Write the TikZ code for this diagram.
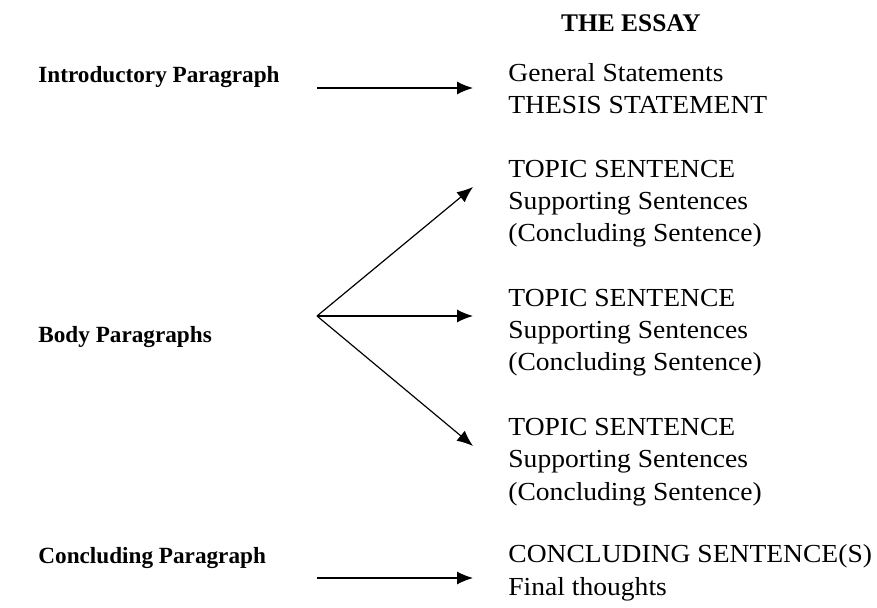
\documentclass[tikz,border=0pt]{standalone}
\usepackage{fontspec}
\setmainfont{Liberation Serif}
\newfontfamily\partfont[FakeStretch=1.06]{Liberation Serif}
\usetikzlibrary{arrows.meta}

\begin{document}
\begin{tikzpicture}[x=0.5pt,y=-0.5pt,
    every node/.style={inner sep=0pt},
    side/.style={anchor=base west, font=\fontsize{11.6}{16}\selectfont\bfseries},
    part/.style={anchor=base west, align=left, font=\partfont\fontsize{13}{16.2}\selectfont},
    link/.style={line width=0.6pt, -{Latex[length=8pt,width=6.5pt]}}]
            \useasboundingbox (0,0) rectangle (877,608);
            % Nodes
            \node[anchor=base, font=\fontsize{12.7}{16}\selectfont\bfseries] (title) at (631,32) {THE ESSAY};
            \node[side] (intro) at (38,83) {Introductory Paragraph};
            \node[side] (body) at (38,343) {Body Paragraphs};
            \node[side] (concl) at (38,563) {Concluding Paragraph};
            % multi-line nodes sit on their last baseline
            \node[part] (p1) at (508,114) {General Statements\\THESIS STATEMENT};
            \node[part] (p2) at (508,242) {TOPIC SENTENCE\\Supporting Sentences\\(Concluding Sentence)};
            \node[part] (p3) at (508,371) {TOPIC SENTENCE\\Supporting Sentences\\(Concluding Sentence)};
            \node[part] (p4) at (508,500) {TOPIC SENTENCE\\Supporting Sentences\\(Concluding Sentence)};
            \node[part] (p5) at (508,595) {CONCLUDING SENTENCE(S)\\Final thoughts};

            \coordinate (a1) at (317,88);
            \coordinate (b1) at (473,88);
            \coordinate (fan) at (317,316);
            \coordinate (b2) at (473,187);
            \coordinate (b3) at (473,316);
            \coordinate (b4) at (473,446);
            \coordinate (a5) at (317,578);
            \coordinate (b5) at (473,578);

            % Edges
            \draw[link] (a1) -- (b1);
            \draw[link] (fan) -- (b2);
            \draw[link] (fan) -- (b3);
            \draw[link] (fan) -- (b4);
            \draw[link] (a5) -- (b5);
        \end{tikzpicture}
\end{document}
